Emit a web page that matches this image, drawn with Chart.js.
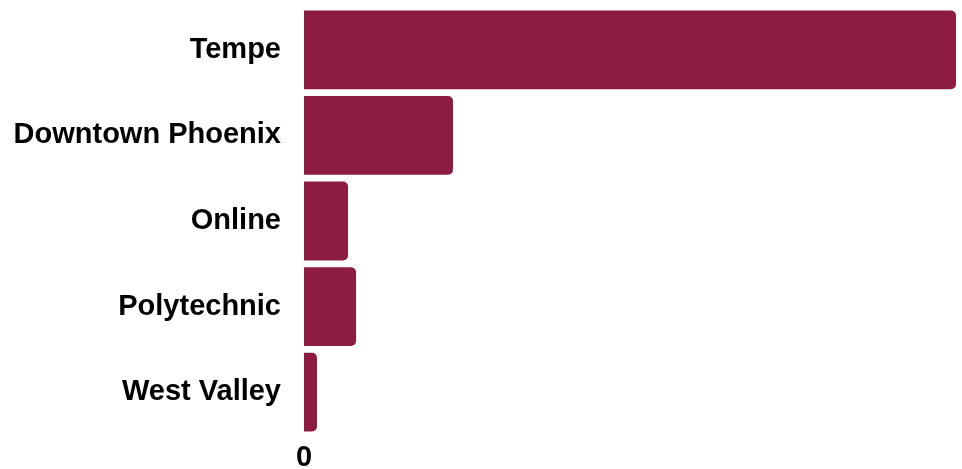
<!DOCTYPE html>
<html>
<head>
<meta charset="utf-8">
<script src="https://cdn.jsdelivr.net/npm/chart.js@4"></script>
<style>
  html, body { margin: 0; padding: 0; background: #ffffff; }
  #wrap { width: 962px; height: 469px; }
</style>
</head>
<body>
<div id="wrap"><canvas id="c" width="962" height="469"></canvas></div>
<script>
const categories = ["Tempe", "Downtown Phoenix", "Online", "Polytechnic", "West Valley"];
const values = [57000, 13030, 3850, 4550, 1135];
const xTicks = [0];

new Chart(document.getElementById('c'), {
  type: 'bar',
  data: {
    labels: categories,
    datasets: [{
      data: values,
      backgroundColor: '#8C1D40',
      borderRadius: 5,
      barPercentage: 1.0,
      categoryPercentage: 0.92
    }]
  },
  options: {
    indexAxis: 'y',
    responsive: false,
    animation: false,
    layout: { padding: { top: 7, right: 6, left: 0, bottom: 0 } },
    plugins: { legend: { display: false }, tooltip: { enabled: false } },
    scales: {
      x: {
        min: 0,
        max: values[0],
        grid: { display: false, tickLength: 12 },
        border: { display: false },
        afterBuildTicks: (axis) => { axis.ticks = xTicks.map(v => ({ value: v })); },
        afterFit: (axis) => { axis.height = 34; axis.paddingLeft = 0; axis.paddingRight = 0; },
        ticks: {
          color: '#000000',
          padding: 0,
          font: { family: 'Liberation Sans, Arial, sans-serif', size: 29, weight: 'bold', lineHeight: 0.76 }
        }
      },
      y: {
        grid: { display: false, tickLength: 8 },
        border: { display: false },
        afterFit: (axis) => { axis.width = 304; axis.paddingTop = 0; axis.paddingBottom = 0; },
        ticks: {
          color: '#000000',
          padding: 15,
          font: { family: 'Liberation Sans, Arial, sans-serif', size: 29, weight: 'bold' }
        }
      }
    }
  }
});
</script>
</body>
</html>
